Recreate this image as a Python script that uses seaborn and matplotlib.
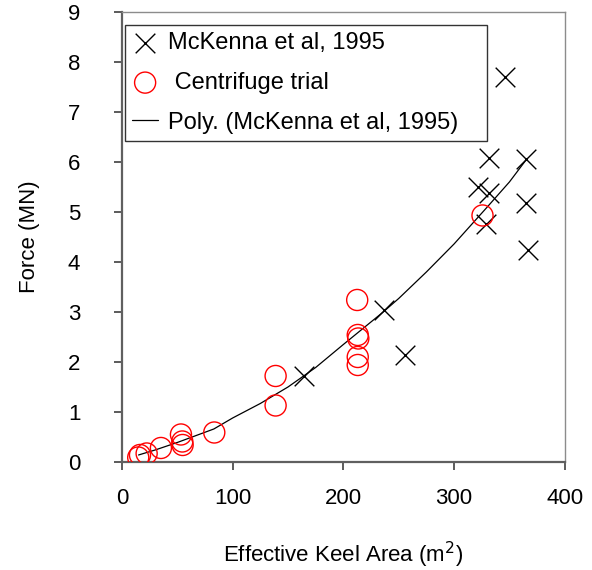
import numpy as np
import pandas as pd
import matplotlib
matplotlib.use('Agg')
import matplotlib.pyplot as plt
import seaborn as sns

# McKenna et al, 1995 (crosses)
mck_area = [164, 237, 256, 346, 332, 365, 322, 332, 365, 329, 367]
mck_force = [1.72, 3.04, 2.14, 7.7, 6.08, 6.06, 5.5, 5.38, 5.18, 4.76, 4.24]

# Centrifuge trial (circles)
cen_area = [14.7, 16.3, 22.3, 35.2, 53.3, 54.5, 54.8, 83.4, 138.8, 138.8,
            212.5, 213, 213.5, 213, 213, 325.7]
cen_force = [0.09, 0.14, 0.17, 0.28, 0.55, 0.41, 0.34, 0.59, 1.72, 1.13,
             3.24, 2.54, 2.47, 2.1, 1.94, 4.93]

# Poly. trend line
poly_area = [15, 30, 50, 83, 100, 125, 150, 175, 200, 236, 250, 275, 300, 330, 350, 365]
poly_force = [0.14, 0.24, 0.39, 0.66, 0.88, 1.17, 1.5, 1.89, 2.35, 3.0, 3.27, 3.8,
              4.36, 5.1, 5.6, 6.04]

mck = pd.DataFrame({'area': mck_area, 'force': mck_force})
cen = pd.DataFrame({'area': cen_area, 'force': cen_force})
poly = pd.DataFrame({'area': poly_area, 'force': poly_force})

sns.set_style('white')
plt.rcParams['font.family'] = ['Liberation Sans', 'DejaVu Sans']
plt.rcParams['text.color'] = 'black'
plt.rcParams['axes.labelcolor'] = 'black'
plt.rcParams['xtick.labelcolor'] = 'black'
plt.rcParams['ytick.labelcolor'] = 'black'

fig = plt.figure(figsize=(5.92, 5.70), dpi=100)
ax = fig.add_axes([0.206, 0.1895, 0.748, 0.7895])

sns.scatterplot(data=mck, x='area', y='force', marker='x', s=200, color='black',
                linewidth=1, ax=ax, label='McKenna et al, 1995', zorder=3)
sns.scatterplot(data=cen, x='area', y='force', marker='o', s=230, facecolors='none',
                edgecolor='red', linewidth=1, ax=ax, label=' Centrifuge trial', zorder=4)
sns.lineplot(data=poly, x='area', y='force', sort=False, estimator=None, color='black',
             linewidth=0.9, ax=ax, label='Poly. (McKenna et al, 1995)', zorder=2)

ax.set_xlim(0, 400)
ax.set_ylim(0, 9)
ax.set_xticks([0, 100, 200, 300, 400])
ax.set_yticks(range(10))
ax.tick_params(axis='both', direction='out', length=6, width=1.2, color='#404040',
               labelsize=16, bottom=True, left=True)
ax.tick_params(axis='x', pad=13)
ax.tick_params(axis='y', pad=24)

for side in ['top', 'right']:
    ax.spines[side].set_color('#8c8c8c')
    ax.spines[side].set_linewidth(1)
for side in ['left', 'bottom']:
    ax.spines[side].set_color('#606060')
    ax.spines[side].set_linewidth(1.6)

ax.set_xlabel('Effective Keel Area (m$^2$)', fontsize=16, labelpad=22)
ax.set_ylabel('Force (MN)', fontsize=16, labelpad=20)

leg = ax.legend(loc='upper left', bbox_to_anchor=(0.007, 0.971, 0.817, 0.0),
                mode='expand', borderaxespad=0,
                fontsize=17, frameon=True, fancybox=False, labelspacing=0.75,
                handlelength=1.1, handletextpad=0.4, borderpad=0.3)
leg.get_frame().set_edgecolor('black')
leg.get_frame().set_linewidth(1)

fig.savefig('out.png', dpi=100)
